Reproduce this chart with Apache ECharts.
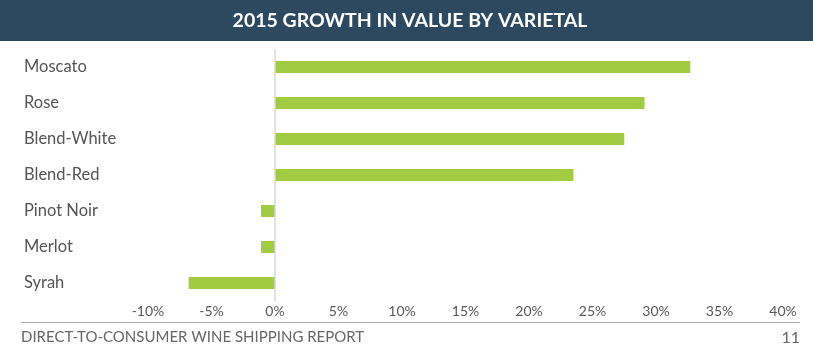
<!DOCTYPE html>
<html><head><meta charset="utf-8">
<script src="https://cdn.jsdelivr.net/npm/echarts@6/dist/echarts.min.js"></script>
<style>html,body{margin:0;padding:0;background:#fff}#c{width:813px;height:364px}</style>
</head><body><div id="c"></div>
<script>
const titleText = '2015 GROWTH IN VALUE BY VARIETAL';
const footerText = 'DIRECT-TO-CONSUMER WINE SHIPPING REPORT';
const pageNumber = '11';
const categories = ['Moscato', 'Rose', 'Blend-White', 'Blend-Red', 'Pinot Noir', 'Merlot', 'Syrah'];
const growthValues = [32.7, 29.1, 27.5, 23.5, -1.1, -1.1, -6.8];
const xMin = -10, xMax = 40, xStep = 5;

const chart = echarts.init(document.getElementById('c'), null, {renderer: 'canvas'});
chart.setOption({
  backgroundColor: '#fff',
  animation: false,
  textStyle: {fontFamily: 'Lato'},
  grid: {left: 148, right: 30, top: 49, bottom: 63, containLabel: false},
  xAxis: {
    type: 'value', min: xMin, max: xMax, interval: xStep,
    axisLine: {show: false}, axisTick: {show: false}, splitLine: {show: false},
    axisLabel: {margin: 3, color: '#595959', fontSize: 14, fontFamily: 'Lato', formatter: v => v + '%'}
  },
  yAxis: {
    type: 'category', data: categories, inverse: true,
    axisLine: {show: false}, axisTick: {show: false}, splitLine: {show: false},
    axisLabel: {align: 'left', margin: 124, color: '#555', fontSize: 16.5, fontFamily: 'Lato'}
  },
  series: [{
    type: 'bar', data: growthValues, barWidth: 12,
    itemStyle: {color: '#a1cc42'},
    markLine: {
      silent: true, symbol: 'none', label: {show: false},
      lineStyle: {color: '#d9d9d9', width: 1.5, type: 'solid'},
      data: [{xAxis: 0}]
    }
  }],
  graphic: [
    {type: 'rect', left: 0, top: 0, shape: {width: 813, height: 41}, style: {fill: '#2c4960'}},
    {type: 'text', x: 410, y: 21, style: {text: titleText, fill: '#fff', font: 'bold 19.5px Lato', align: 'center', verticalAlign: 'middle'}},
    {type: 'line', shape: {x1: 21, y1: 322.5, x2: 800, y2: 322.5}, style: {stroke: '#a6a6a6', lineWidth: 1}},
    {type: 'text', x: 21, y: 337, style: {text: footerText, fill: '#666', font: '15px Lato', align: 'left', verticalAlign: 'middle'}},
    {type: 'text', x: 800, y: 338, style: {text: pageNumber, fill: '#666', font: '16px Lato', align: 'right', verticalAlign: 'middle'}}
  ]
});
</script></body></html>
